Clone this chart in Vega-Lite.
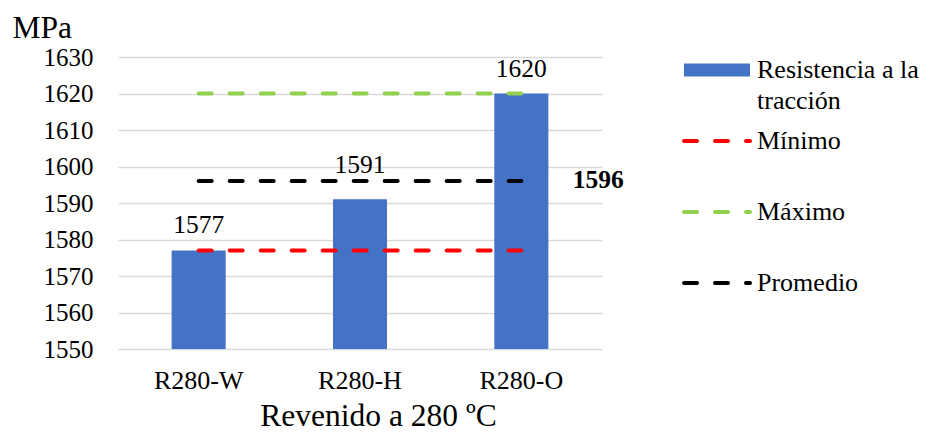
{
  "$schema": "https://vega.github.io/schema/vega-lite/v6.json",
  "width": 484,
  "height": 292,
  "autosize": {"type": "none"},
  "padding": {"left": 118, "top": 57, "right": 323, "bottom": 86},
  "background": "white",
  "config": {
    "view": {"stroke": null},
    "font": "Liberation Serif",
    "axis": {"labelOverlap": false},
    "style": {
      "guide-label": {"font": "Liberation Serif", "fill": "#000000"},
      "guide-title": {"font": "Liberation Serif", "fill": "#000000", "fontWeight": "normal"}
    }
  },
  "datasets": {
    "resistencia": [
      {"ensayo": "R280-W", "serie": "Resistencia a la tracción", "valor": 1577},
      {"ensayo": "R280-H", "serie": "Resistencia a la tracción", "valor": 1591},
      {"ensayo": "R280-O", "serie": "Resistencia a la tracción", "valor": 1620}
    ],
    "referencias": [
      {"ensayo": "R280-W", "serie": "Mínimo", "valor": 1577},
      {"ensayo": "R280-H", "serie": "Mínimo", "valor": 1577},
      {"ensayo": "R280-O", "serie": "Mínimo", "valor": 1577},
      {"ensayo": "R280-W", "serie": "Máximo", "valor": 1620},
      {"ensayo": "R280-H", "serie": "Máximo", "valor": 1620},
      {"ensayo": "R280-O", "serie": "Máximo", "valor": 1620},
      {"ensayo": "R280-W", "serie": "Promedio", "valor": 1596},
      {"ensayo": "R280-H", "serie": "Promedio", "valor": 1596},
      {"ensayo": "R280-O", "serie": "Promedio", "valor": 1596}
    ]
  },
  "encoding": {
    "x": {
      "field": "ensayo",
      "type": "nominal",
      "sort": ["R280-W", "R280-H", "R280-O"],
      "scale": {"paddingInner": 0.665, "paddingOuter": 0.3325},
      "axis": {
        "labelAngle": 0,
        "domain": false,
        "ticks": false,
        "tickSize": 0,
        "labelFont": "Liberation Serif",
        "labelColor": "#000000",
        "labelFontSize": 26,
        "labelPadding": 18,
        "title": "Revenido a 280 ºC",
        "titleFont": "Liberation Serif",
        "titleColor": "#000000",
        "titleFontWeight": "normal",
        "titleFontSize": 31.5,
        "titleX": 260,
        "titleY": 76,
        "titleAlign": "center",
        "titleBaseline": "alphabetic"
      }
    },
    "y": {
      "field": "valor",
      "type": "quantitative",
      "scale": {"domain": [1550, 1630], "zero": false, "nice": false},
      "axis": {
        "values": [1550, 1560, 1570, 1580, 1590, 1600, 1610, 1620, 1630],
        "format": "d",
        "labelOverlap": false,
        "labelBound": false,
        "grid": true,
        "gridColor": "#d9d9d9",
        "gridWidth": 1.5,
        "domain": false,
        "ticks": false,
        "tickSize": 0,
        "labelFont": "Liberation Serif",
        "labelColor": "#000000",
        "labelFontSize": 25,
        "labelPadding": 25,
        "title": "MPa",
        "titleFont": "Liberation Serif",
        "titleColor": "#000000",
        "titleFontWeight": "normal",
        "titleFontSize": 31.5,
        "titleAngle": 0,
        "titleAlign": "left",
        "titleBaseline": "alphabetic",
        "titleX": -106,
        "titleY": -20
      }
    }
  },
  "layer": [
    {
      "data": {"name": "resistencia"},
      "mark": {"type": "bar"},
      "encoding": {
        "y2": {"datum": 1550},
        "color": {
          "field": "serie",
          "type": "nominal",
          "scale": {
            "domain": ["Resistencia a la tracción", "Mínimo", "Máximo", "Promedio"],
            "range": ["#4472C4", "#FF0000", "#92D050", "#000000"]
          },
          "legend": {
            "title": null,
            "orient": "none",
            "legendX": 586,
            "legendY": 0,
            "padding": 0,
            "gridAlign": "all",
            "rowPadding": 14,
            "symbolType": "stroke",
            "symbolSize": 4356,
            "symbolStrokeWidth": 4,
            "symbolDash": [13, 18],
            "labelFont": "Liberation Serif",
            "labelColor": "#000000",
            "labelFontSize": 26,
            "labelOffset": 27,
            "labelLimit": 300,
            "labelBaseline": "top",
            "labelExpr": "datum.value == 'Resistencia a la tracción' ? ['Resistencia a la', 'tracción'] : datum.label",
            "encode": {
              "symbols": {
                "update": {
                  "stroke": {"signal": "scale('color', datum.value)"},
                  "fill": {"value": "transparent"},
                  "strokeWidth": {"signal": "datum.value == 'Resistencia a la tracción' ? 13 : 4"},
                  "strokeDash": {"signal": "datum.value == 'Resistencia a la tracción' ? [1, 0] : [13, 18]"},
                  "strokeCap": {"signal": "datum.value == 'Resistencia a la tracción' ? 'butt' : 'round'"}
                }
              },
              "labels": {
                "update": {
                  "dy": {"value": -13},
                  "lineHeight": {"value": 31}
                }
              }
            }
          }
        }
      }
    },
    {
      "data": {"name": "resistencia"},
      "transform": [{"filter": "datum.ensayo != 'R280-H'"}],
      "mark": {"type": "text", "font": "Liberation Serif", "color": "#000000", "fontSize": 25.5, "baseline": "alphabetic", "dy": -17},
      "encoding": {
        "text": {"field": "valor", "type": "quantitative", "format": "d"}
      }
    },
    {
      "data": {"name": "resistencia"},
      "transform": [{"filter": "datum.ensayo == 'R280-H'"}],
      "mark": {"type": "text", "font": "Liberation Serif", "color": "#000000", "fontSize": 25.5, "baseline": "alphabetic", "dy": -26},
      "encoding": {
        "text": {"field": "valor", "type": "quantitative", "format": "d"}
      }
    },
    {
      "data": {"name": "referencias"},
      "mark": {"type": "line", "strokeWidth": 4, "strokeDash": [13, 18], "strokeCap": "round"},
      "encoding": {
        "color": {"field": "serie", "type": "nominal"},
        "detail": {"field": "serie"}
      }
    },
    {
      "data": {"name": "referencias"},
      "transform": [{"filter": "datum.serie == 'Promedio' && datum.ensayo == 'R280-O'"}],
      "mark": {"type": "text", "font": "Liberation Serif", "color": "#000000", "fontSize": 25.5, "fontWeight": "bold", "baseline": "alphabetic", "dx": 77, "dy": 7},
      "encoding": {
        "text": {"field": "valor", "type": "quantitative", "format": "d"}
      }
    }
  ]
}
